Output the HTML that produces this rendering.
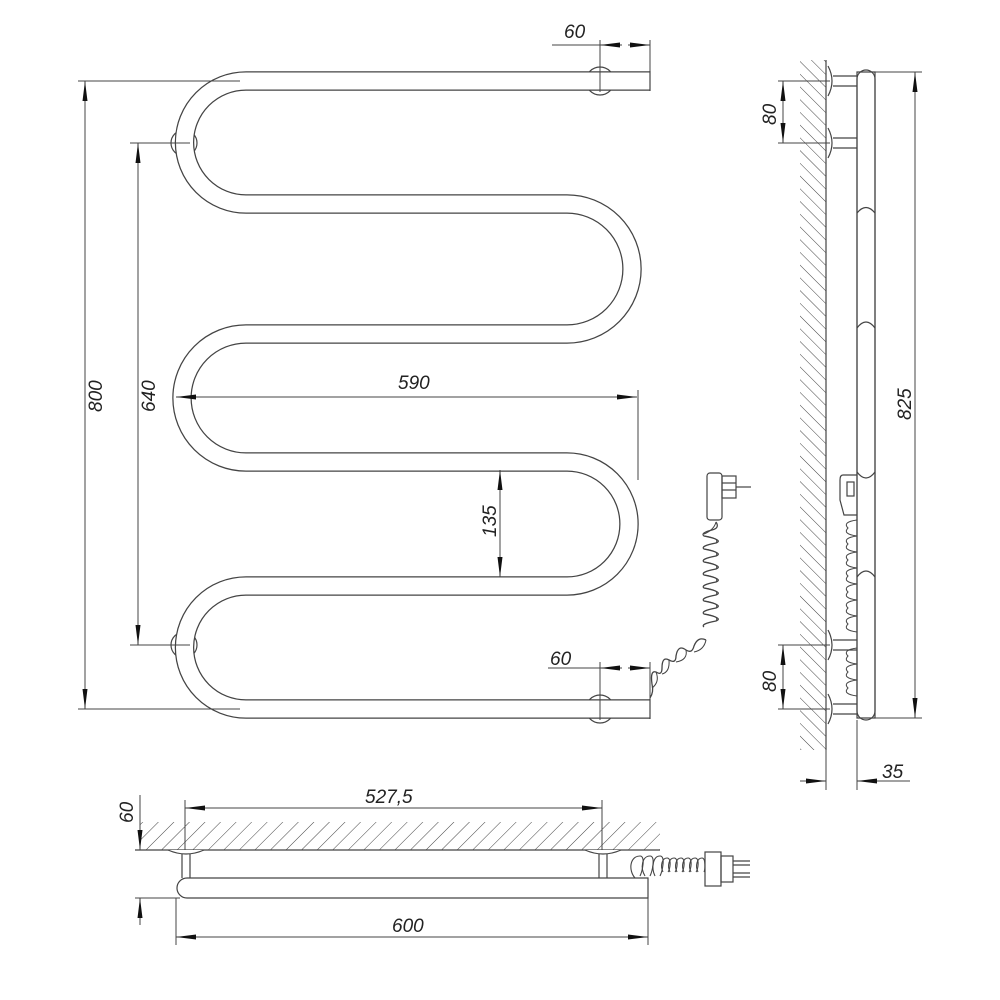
<!DOCTYPE html>
<html><head><meta charset="utf-8"><style>
html,body{margin:0;padding:0;background:#fff}
svg{display:block}
text{font-family:"Liberation Sans",sans-serif;font-style:italic;font-size:19px;fill:#222}
</style></head><body>
<svg width="1000" height="1000" viewBox="0 0 1000 1000" xmlns="http://www.w3.org/2000/svg">
<defs>
<marker id="a" viewBox="0 0 20 6" refX="20" refY="3" markerWidth="20" markerHeight="6" markerUnits="userSpaceOnUse" orient="auto-start-reverse"><path d="M0 0.5 L20 3 L0 5.5z" fill="#111"/></marker>
<pattern id="h" width="9" height="9" patternUnits="userSpaceOnUse" patternTransform="rotate(-45)"><line x1="0" y1="0" x2="0" y2="9" stroke="#444" stroke-width="1"/></pattern>
<pattern id="h2" width="11" height="11" patternUnits="userSpaceOnUse" patternTransform="rotate(45)"><line x1="0" y1="0" x2="0" y2="11" stroke="#444" stroke-width="1"/></pattern>
</defs>
<g fill="none" stroke="#444" stroke-width="1.2">
<circle cx="600" cy="81" r="14" fill="#fff"/>
<circle cx="600" cy="709" r="14" fill="#fff"/>
<circle cx="184" cy="143" r="13" fill="#fff"/>
<circle cx="184" cy="645" r="13" fill="#fff"/>
<path d="M650 81 H246 A61.5 61.5 0 0 0 246 204 H567 A65 65 0 0 1 567 334 H246 A64 64 0 0 0 246 462 H567 A62 62 0 0 1 567 586 H246 A61.5 61.5 0 0 0 246 709 H650" stroke="#444" stroke-width="19.5"/>
<path d="M650 81 H246 A61.5 61.5 0 0 0 246 204 H567 A65 65 0 0 1 567 334 H246 A64 64 0 0 0 246 462 H567 A62 62 0 0 1 567 586 H246 A61.5 61.5 0 0 0 246 709 H650" stroke="#fff" stroke-width="17"/>
<line x1="650" y1="71" x2="650" y2="91"/>
<line x1="650" y1="699" x2="650" y2="719"/>
<line x1="78" y1="81" x2="240" y2="81" stroke-width="1"/>
<line x1="78" y1="709" x2="240" y2="709" stroke-width="1"/>
<line x1="85" y1="81" x2="85" y2="709" stroke-width="1" marker-start="url(#a)" marker-end="url(#a)"/>
<line x1="130" y1="143" x2="190" y2="143" stroke-width="1"/>
<line x1="130" y1="645" x2="190" y2="645" stroke-width="1"/>
<line x1="138" y1="143" x2="138" y2="645" stroke-width="1" marker-start="url(#a)" marker-end="url(#a)"/>
<line x1="176" y1="397" x2="637" y2="397" stroke-width="1" marker-start="url(#a)" marker-end="url(#a)"/>
<line x1="638" y1="390" x2="638" y2="480" stroke-width="1"/>
<line x1="500" y1="470" x2="500" y2="577" stroke-width="1" marker-start="url(#a)" marker-end="url(#a)"/>
<line x1="600" y1="40" x2="600" y2="92" stroke-width="1"/>
<line x1="650" y1="40" x2="650" y2="72" stroke-width="1"/>
<line x1="552" y1="45" x2="600" y2="45" stroke-width="1"/>
<line x1="600" y1="45" x2="622" y2="45" stroke-width="1" marker-start="url(#a)"/>
<line x1="628" y1="45" x2="650" y2="45" stroke-width="1" marker-end="url(#a)"/>
<line x1="600" y1="662" x2="600" y2="720" stroke-width="1"/>
<line x1="650" y1="662" x2="650" y2="700" stroke-width="1"/>
<line x1="548" y1="668" x2="600" y2="668" stroke-width="1"/>
<line x1="600" y1="668" x2="622" y2="668" stroke-width="1" marker-start="url(#a)"/>
<line x1="628" y1="668" x2="650" y2="668" stroke-width="1" marker-end="url(#a)"/>
<!-- plug and cable front -->
<rect x="707" y="473" width="15" height="47" rx="3" fill="#fff"/>
<rect x="722" y="476" width="14" height="22"/>
<line x1="722" y1="483" x2="736" y2="483"/><line x1="722" y1="490" x2="736" y2="490"/>
<line x1="736" y1="487" x2="751" y2="487"/>
<g stroke-width="1.3">
<path d="M716 522 Q720 528 712 530 Q700 533 704 536 Q724 540 716 543 Q700 546 704 549 Q724 553 716 556 Q700 559 704 562 Q724 566 716 569 Q700 572 704 575 Q724 579 716 582 Q700 585 704 588 Q724 592 716 595 Q700 598 704 601 Q724 605 716 608 Q700 611 704 614 Q724 618 716 621 Q700 624 704 627"/>
<path d="M716 522 Q714 530 704 534 M704 536 Q720 538 716 543 M704 549 Q720 551 716 556 M704 562 Q720 564 716 569 M704 575 Q720 577 716 582 M704 588 Q720 590 716 595 M704 601 Q720 603 716 608 M704 614 Q720 616 716 621" stroke-width="1"/>
<path d="M706 640 Q698 636 694 646 Q692 654 686 650 Q678 644 676 656 Q676 664 669 660 Q662 656 662 668 Q662 676 656 672 Q650 670 652 684 Q654 692 650 698"/>
<path d="M706 640 Q704 650 694 652 M686 650 Q688 660 676 662 M669 660 Q670 672 662 674 M656 672 Q660 682 652 688" stroke-width="1"/>
</g>
<!-- side view -->
<line x1="826" y1="60" x2="826" y2="750"/>
<rect x="800" y="60" width="26" height="690" fill="url(#h)" stroke="none"/>
<path d="M857 72 H875 V718 H857 Z" fill="#fff"/>
<path d="M857 213 Q866 202 875 213 M857 328 Q866 316 875 328 M857 472 Q866 484 875 472 M857 577 Q866 565 875 577"/>
<rect x="857" y="70" width="18" height="650" rx="9"/>
<g>
<path d="M828 66 Q836 81 828 96"/><line x1="833" y1="76" x2="857" y2="76"/><line x1="833" y1="86" x2="857" y2="86"/>
<path d="M828 128 Q836 143 828 158"/><line x1="833" y1="138" x2="857" y2="138"/><line x1="833" y1="148" x2="857" y2="148"/>
<path d="M828 630 Q836 645 828 660"/><line x1="833" y1="640" x2="857" y2="640"/><line x1="833" y1="650" x2="857" y2="650"/>
<path d="M828 694 Q836 709 828 724"/><line x1="833" y1="704" x2="857" y2="704"/><line x1="833" y1="714" x2="857" y2="714"/>
</g>
<path d="M857 475 H843 Q840 475 840 480 V500 L844 515 H857"/>
<rect x="847" y="482" width="7" height="14"/>
<path d="M857 520 Q842 522 848 528 Q842 534 857 536 M857 536 Q842 538 848 544 Q842 550 857 552 M857 552 Q842 554 848 560 Q842 566 857 568 M857 568 Q842 570 848 576 Q842 582 857 584 M857 584 Q842 586 848 592 Q842 598 857 600 M857 600 Q842 602 848 608 Q842 614 857 616 M857 616 Q842 618 848 624 Q842 630 857 632 M857 648 Q842 650 848 656 Q842 662 857 664 M857 664 Q842 666 848 672 Q842 678 857 680 M857 680 Q842 682 848 688 Q842 694 857 696" stroke-width="1"/>
<line x1="875" y1="72" x2="922" y2="72" stroke-width="1"/>
<line x1="875" y1="718" x2="922" y2="718" stroke-width="1"/>
<line x1="915" y1="72" x2="915" y2="718" stroke-width="1" marker-start="url(#a)" marker-end="url(#a)"/>
<line x1="778" y1="81" x2="830" y2="81" stroke-width="1"/>
<line x1="778" y1="143" x2="830" y2="143" stroke-width="1"/>
<line x1="783" y1="81" x2="783" y2="143" stroke-width="1" marker-start="url(#a)" marker-end="url(#a)"/>
<line x1="778" y1="645" x2="830" y2="645" stroke-width="1"/>
<line x1="778" y1="709" x2="830" y2="709" stroke-width="1"/>
<line x1="783" y1="645" x2="783" y2="709" stroke-width="1" marker-start="url(#a)" marker-end="url(#a)"/>
<line x1="826" y1="720" x2="826" y2="790" stroke-width="1"/>
<line x1="857" y1="720" x2="857" y2="790" stroke-width="1"/>
<line x1="800" y1="781" x2="826" y2="781" stroke-width="1" marker-end="url(#a)"/>
<line x1="857" y1="781" x2="910" y2="781" stroke-width="1" marker-start="url(#a)"/>
<!-- bottom view -->
<line x1="135" y1="850" x2="660" y2="850"/>
<rect x="140" y="822" width="520" height="28" fill="url(#h2)" stroke="none"/>
<line x1="182" y1="850" x2="182" y2="878"/><line x1="190" y1="850" x2="190" y2="878"/>
<line x1="599" y1="850" x2="599" y2="878"/><line x1="607" y1="850" x2="607" y2="878"/>
<path d="M168 850 Q186 858 204 850" fill="#fff"/>
<path d="M585 850 Q603 858 621 850" fill="#fff"/>
<path d="M187 878 H648 V898 H187 A10 10 0 0 1 187 878 Z" fill="#fff"/>
<g stroke-width="1.1">
<path d="M635 878 C628 870,630 856,640 856 C646 856,642 872,640 876"/>
<path d="M645 876 C640 868,642 856,650 856 C656 856,652 872,650 876"/>
<path d="M655 876 C651 868,653 856,660 856 C666 856,662 872,660 876"/>
<path d="M663 872 C660 866,662 858,667 858 C672 858,670 870,668 872"/>
<path d="M670 872 C667 866,669 858,674 858 C679 858,677 870,675 872"/>
<path d="M677 872 C674 866,676 858,681 858 C686 858,684 870,682 872"/>
<path d="M684 872 C681 866,683 858,688 858 C693 858,691 870,689 872"/>
<path d="M691 872 C688 866,690 858,695 858 C700 858,698 870,696 872"/>
<path d="M698 872 C695 866,697 858,702 858 C706 858,705 870,704 872"/>
</g>
<rect x="705" y="852" width="16" height="34" fill="#fff"/>
<rect x="721" y="856" width="12" height="26"/>
<line x1="733" y1="861" x2="750" y2="861"/><line x1="733" y1="865" x2="750" y2="865"/>
<line x1="733" y1="873" x2="750" y2="873"/><line x1="733" y1="877" x2="750" y2="877"/>
<line x1="185" y1="800" x2="185" y2="850" stroke-width="1"/>
<line x1="602" y1="800" x2="602" y2="850" stroke-width="1"/>
<line x1="185" y1="808" x2="602" y2="808" stroke-width="1" marker-start="url(#a)" marker-end="url(#a)"/>
<line x1="176" y1="898" x2="176" y2="945" stroke-width="1"/>
<line x1="648" y1="898" x2="648" y2="945" stroke-width="1"/>
<line x1="176" y1="937" x2="648" y2="937" stroke-width="1" marker-start="url(#a)" marker-end="url(#a)"/>
<line x1="135" y1="898" x2="180" y2="898" stroke-width="1"/>
<line x1="140" y1="795" x2="140" y2="850" stroke-width="1" marker-end="url(#a)"/>
<line x1="140" y1="898" x2="140" y2="925" stroke-width="1" marker-start="url(#a)"/>
</g>
<g>
<text x="564" y="38">60</text>
<text x="550" y="665">60</text>
<text x="398" y="389">590</text>
<text transform="translate(102,412) rotate(-90)">800</text>
<text transform="translate(155,412) rotate(-90)">640</text>
<text transform="translate(496,537) rotate(-90)">135</text>
<text transform="translate(776,125) rotate(-90)">80</text>
<text transform="translate(776,692) rotate(-90)">80</text>
<text transform="translate(911,420) rotate(-90)">825</text>
<text x="882" y="778">35</text>
<text x="365" y="803">527,5</text>
<text x="392" y="932">600</text>
<text transform="translate(133,823) rotate(-90)">60</text>
</g>
</svg>
</body></html>
